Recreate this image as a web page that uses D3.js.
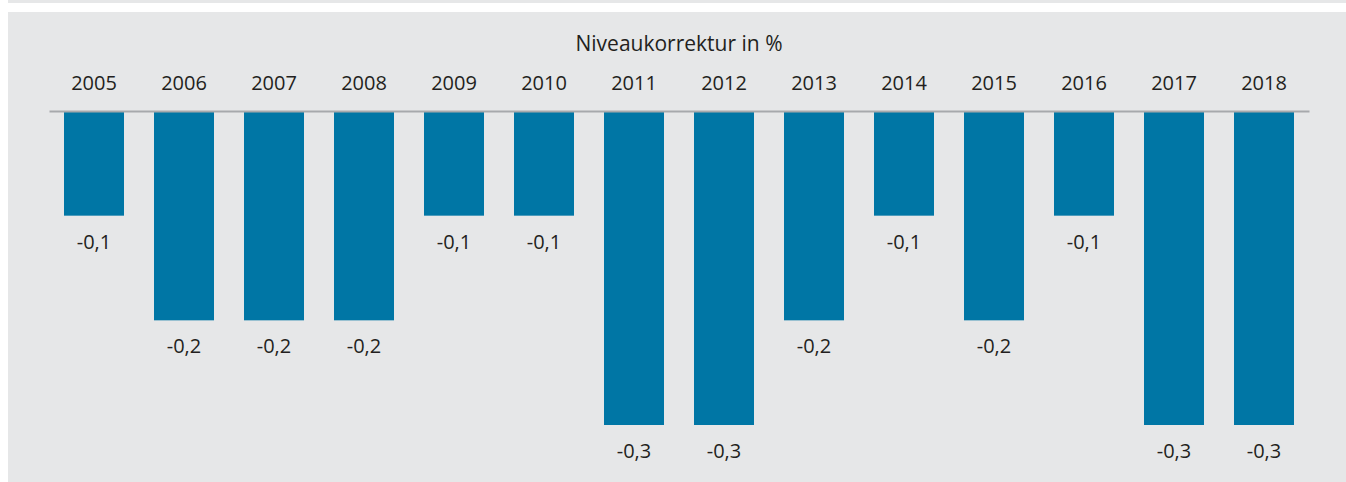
<!DOCTYPE html>
<html>
<head>
	<meta charset="utf-8">
	<title>Niveaukorrektur</title>
	<style>
	body { margin: 0; background: #fff; }
	svg { display: block; }
	.lbl { font: 20px "Open Sans", sans-serif; fill: #231f20; }
	.ttl { font: 21px "Open Sans", sans-serif; fill: #231f20; }
	</style>
</head>
<body>
	<script src="https://cdnjs.cloudflare.com/ajax/libs/d3/7.8.5/d3.min.js"></script>
	<script>
	// data
	var years = ["2005","2006","2007","2008","2009","2010","2011","2012","2013","2014","2015","2016","2017","2018"];
	var values = [-0.1,-0.2,-0.2,-0.2,-0.1,-0.1,-0.3,-0.3,-0.2,-0.1,-0.2,-0.1,-0.3,-0.3];
	var title = "Niveaukorrektur in %";

	var W = 1346, H = 482;
	var svg = d3.select("body").append("svg")
		.attr("width", W)
		.attr("height", H);

	// background panels
	svg.append("rect").attr("x", 8).attr("y", 0).attr("width", W - 8).attr("height", 3).attr("fill", "#e6e7e8");
	svg.append("rect").attr("x", 8).attr("y", 12).attr("width", W - 8).attr("height", H - 12).attr("fill", "#e6e7e8");

	// scales
	var x = d3.scaleBand().domain(years).range([49, 1309]).paddingInner(1/3).paddingOuter(1/6);
	var y = d3.scaleLinear().domain([0, -0.3]).range([111, 425]);

	svg.append("text")
		.attr("class", "ttl")
		.attr("x", (49 + 1309) / 2)
		.attr("y", 51)
		.attr("text-anchor", "middle")
		.text(title);

	// bars
	svg.selectAll(".bar")
		.data(values)
		.enter().append("rect")
		.attr("class", "bar")
		.attr("x", function(d, i){ return x(years[i]); })
		.attr("width", x.bandwidth())
		.attr("y", y(0))
		.attr("height", function(d){ return y(d) - y(0); })
		.attr("fill", "#0076a5");

	// top axis with year labels
	var ax = svg.append("g")
		.attr("transform", "translate(0," + y(0) + ")")
		.call(d3.axisTop(x).tickSize(0).tickPadding(21));
	ax.select(".domain").attr("stroke", "#a7a9ac").attr("stroke-width", 2);
	ax.selectAll("text").attr("class", "lbl").attr("fill", null);

	// value labels
	var fmt = function(v){ return d3.format(".1f")(v).replace(".", ",").replace("−", "-"); };
	svg.selectAll(".val")
		.data(values)
		.enter().append("text")
		.attr("class", "lbl")
		.attr("x", function(d, i){ return x(years[i]) + x.bandwidth() / 2; })
		.attr("y", function(d){ return y(d) + 33; })
		.attr("text-anchor", "middle")
		.text(fmt);
	</script>
</body>
</html>
